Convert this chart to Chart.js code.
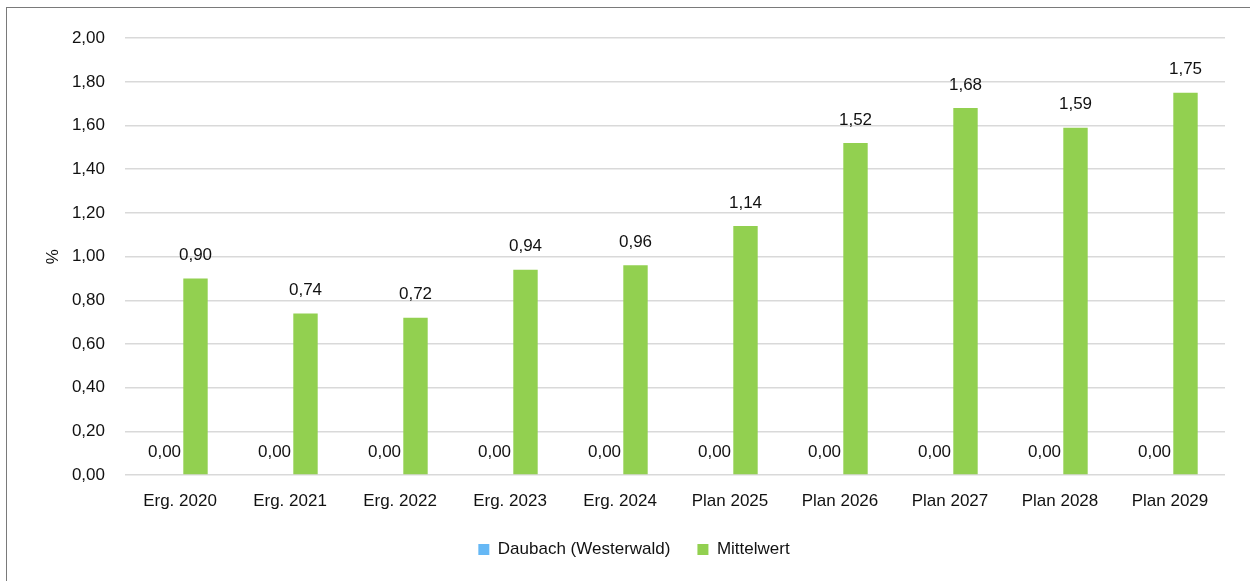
<!DOCTYPE html>
<html>
<head>
<meta charset="utf-8">
<script src="https://cdn.jsdelivr.net/npm/chart.js@4/dist/chart.umd.min.js"></script>
<style>
  html, body { margin: 0; padding: 0; background: #fff; }
  #wrap {
    position: absolute; left: 6px; top: 7px;
    width: 1243px; height: 573px;
    border-left: 1px solid #7a7a7a; border-top: 1px solid #7a7a7a;
  }
  #chart { display: block; }
</style>
</head>
<body>
<div id="wrap"><canvas id="chart" width="1243" height="573"></canvas></div>
<script>
// =========================================================
// DATEN
// =========================================================
const kategorien = ['Erg. 2020', 'Erg. 2021', 'Erg. 2022', 'Erg. 2023', 'Erg. 2024',
                    'Plan 2025', 'Plan 2026', 'Plan 2027', 'Plan 2028', 'Plan 2029'];
const werteDaubach    = [0, 0, 0, 0, 0, 0, 0, 0, 0, 0];
const werteMittelwert = [0.90, 0.74, 0.72, 0.94, 0.96, 1.14, 1.52, 1.68, 1.59, 1.75];

const SCHRIFT = "'Liberation Sans', Arial, sans-serif";
const fmt = v => Number(v).toFixed(2).replace('.', ',');

// Werte-Beschriftung ueber den Balken
const wertLabels = {
    id: 'wertLabels',
    afterDatasetsDraw(chart) {
        const ctx = chart.ctx;
        ctx.save();
        ctx.font = '17px ' + SCHRIFT;
        ctx.fillStyle = '#111';
        ctx.textAlign = 'center';
        ctx.textBaseline = 'middle';
        chart.data.datasets.forEach((ds, i) => {
            const meta = chart.getDatasetMeta(i);
            meta.data.forEach((bar, j) => {
                ctx.fillText(fmt(ds.data[j]), bar.x, bar.y - 23);
            });
        });
        ctx.restore();
    }
};

new Chart(document.getElementById('chart'), {
    type: 'bar',
    data: {
        labels: kategorien,
        datasets: [
            { label: 'Daubach (Westerwald)', data: werteDaubach, backgroundColor: '#66b8f5',
              categoryPercentage: 0.5636, barPercentage: 0.787 },
            { label: 'Mittelwert', data: werteMittelwert, backgroundColor: '#92d050',
              categoryPercentage: 0.5636, barPercentage: 0.787 }
        ]
    },
    options: {
        responsive: false,
        animation: false,
        layout: { padding: { top: 29, right: 25, left: 36, bottom: 13 } },
        plugins: {
            tooltip: { enabled: false },
            legend: {
                position: 'bottom',
                labels: { font: { family: SCHRIFT, size: 17 }, color: '#111',
                          boxWidth: 11, boxHeight: 11, padding: 27 }
            }
        },
        scales: {
            x: {
                grid: { display: false },
                border: { display: false },
                ticks: { font: { family: SCHRIFT, size: 17 }, color: '#111', padding: 8, maxRotation: 0 },
                afterFit: s => { s.height = 39; }
            },
            y: {
                min: 0, max: 2,
                ticks: { stepSize: 0.2, callback: v => fmt(v), font: { family: SCHRIFT, size: 17 },
                         color: '#111', padding: 20 },
                grid: { color: '#d9d9d9', lineWidth: 1.5, drawTicks: false },
                border: { display: false },
                title: { display: true, text: '%', font: { family: SCHRIFT, size: 17 }, color: '#111',
                         padding: { top: 0, bottom: 0 } },
                afterFit: s => { s.width = 82; }
            }
        }
    },
    plugins: [wertLabels]
});
</script>
</body>
</html>
